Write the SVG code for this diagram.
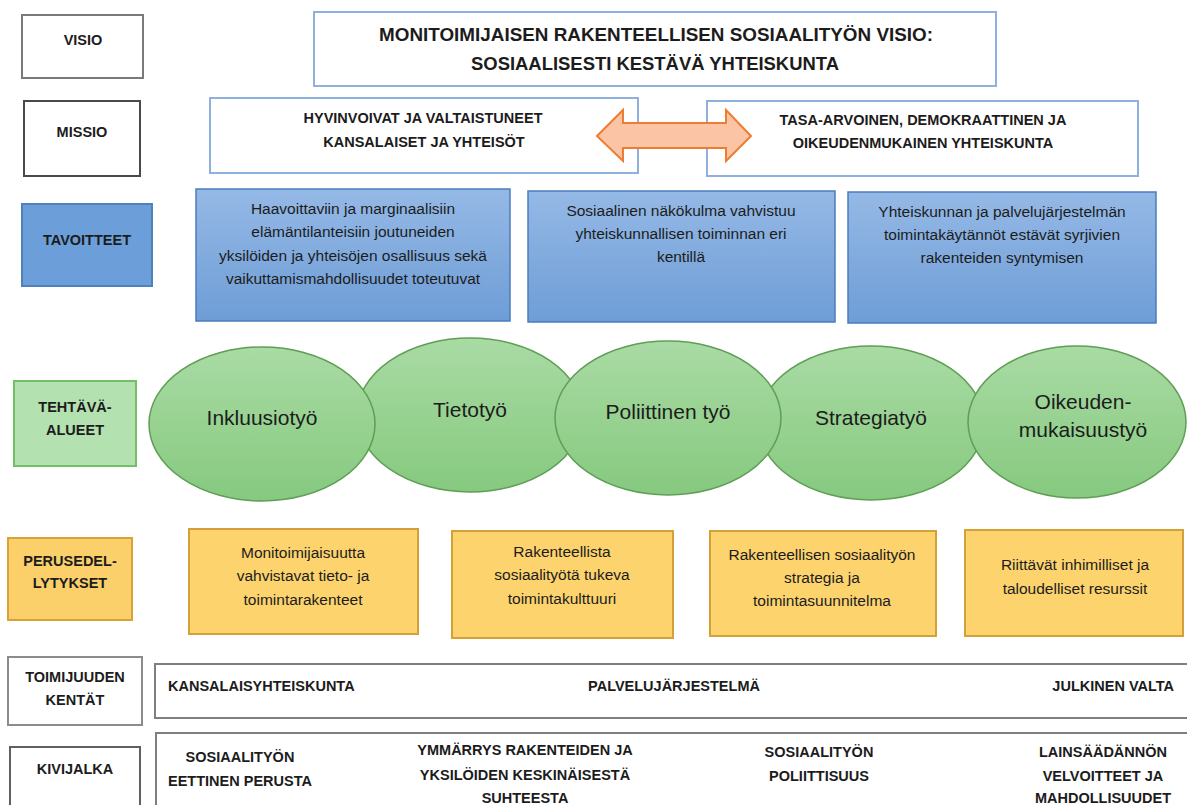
<svg xmlns="http://www.w3.org/2000/svg" width="1187" height="805" viewBox="0 0 1187 805">
<defs>
<linearGradient id="gBlue" x1="0" y1="0" x2="0" y2="1"><stop offset="0" stop-color="#95b9e6"/><stop offset="1" stop-color="#6e9dd6"/></linearGradient>
<linearGradient id="gGreen" x1="0" y1="0" x2="0" y2="1"><stop offset="0" stop-color="#a9dba4"/><stop offset="1" stop-color="#86c97f"/></linearGradient>
<style>
text{font-family:"Liberation Sans",Arial,sans-serif;fill:#1c1c1c;text-anchor:middle}
.b{font-weight:bold;font-size:14.5px}
.t{font-weight:bold;font-size:19px}
.n{font-size:15.5px}
.e{font-size:21px}
.lab{fill:#fff;stroke:#7a7a7a;stroke-width:2}
.top{fill:#fff;stroke:#8fb0dc;stroke-width:2}
.blue{fill:url(#gBlue);stroke:#4a7dbd;stroke-width:1.5}
.ell{fill:url(#gGreen);stroke:#5f9e55;stroke-width:1.5}
.org{fill:#fdd36e;stroke:#d4a139;stroke-width:2}
.row{fill:#fff;stroke:#7f7f7f;stroke-width:2}
</style>
</defs>
<rect width="1187" height="805" fill="#fff"/>

<g id="visio-label"><rect class="lab" x="22" y="15" width="121" height="63"/><text class="b" x="83" y="45">VISIO</text></g>
<g id="missio-label"><rect class="lab" x="24" y="101" width="116" height="75" style="stroke:#4a4a4a"/><text class="b" x="82" y="137">MISSIO</text></g>
<g id="tavoitteet-label"><rect x="22" y="204" width="130" height="82" fill="#6c9fd9" stroke="#4f81bd" stroke-width="2"/><text class="b" x="87" y="245">TAVOITTEET</text></g>
<g id="tehtava-label"><rect x="14" y="381" width="122" height="85" fill="#b4e1b0" stroke="#72c066" stroke-width="2"/><text class="b" x="75" y="412">TEHTÄVÄ-</text><text class="b" x="75" y="435">ALUEET</text></g>
<g id="perusedel-label"><rect x="8" y="538" width="124" height="82" fill="#fbd06a" stroke="#d9a13a" stroke-width="2"/><text class="b" x="70" y="566">PERUSEDEL-</text><text class="b" x="70" y="588">LYTYKSET</text></g>
<g id="toimijuuden-label"><rect class="lab" x="8" y="657" width="134" height="68" style="stroke:#8c8c8c"/><text class="b" x="75" y="682">TOIMIJUUDEN</text><text class="b" x="75" y="705">KENTÄT</text></g>
<g id="kivijalka-label"><rect class="lab" x="10" y="747" width="130" height="70" style="stroke:#606060"/><text class="b" x="75" y="774">KIVIJALKA</text></g>

<g id="visio"><rect class="top" x="314" y="12" width="682" height="74"/>
<text class="t" x="656" y="41" textLength="554" lengthAdjust="spacingAndGlyphs">MONITOIMIJAISEN RAKENTEELLISEN SOSIAALITYÖN VISIO:</text>
<text class="t" x="655" y="70" textLength="368" lengthAdjust="spacingAndGlyphs">SOSIAALISESTI KESTÄVÄ YHTEISKUNTA</text></g>

<g id="missio-1"><rect class="top" x="210" y="98" width="428" height="75"/>
<text class="b" x="423" y="123">HYVINVOIVAT JA VALTAISTUNEET</text>
<text class="b" x="424" y="147">KANSALAISET JA YHTEISÖT</text></g>
<g id="missio-2"><rect class="top" x="707" y="101" width="431" height="75"/>
<text class="b" x="923" y="125">TASA-ARVOINEN, DEMOKRAATTINEN JA</text>
<text class="b" x="923" y="148">OIKEUDENMUKAINEN YHTEISKUNTA</text></g>

<g id="connectors">
<polygon points="597,136 623,110 623,123 726,123 726,110 751,136 726,161 726,148 623,148 623,161" fill="#fbc4a4" stroke="#ed7d31" stroke-width="2" stroke-linejoin="miter"/>
</g>

<g id="tavoite-1"><rect class="blue" x="196" y="189" width="314" height="132"/>
<text class="n" x="353" y="214">Haavoittaviin ja marginaalisiin</text>
<text class="n" x="353" y="237">elämäntilanteisiin joutuneiden</text>
<text class="n" x="353" y="261">yksilöiden ja yhteisöjen osallisuus sekä</text>
<text class="n" x="353" y="284">vaikuttamismahdollisuudet toteutuvat</text></g>
<g id="tavoite-2"><rect class="blue" x="528" y="191" width="307" height="131"/>
<text class="n" x="681" y="216">Sosiaalinen näkökulma vahvistuu</text>
<text class="n" x="681" y="239">yhteiskunnallisen toiminnan eri</text>
<text class="n" x="681" y="262">kentillä</text></g>
<g id="tavoite-3"><rect class="blue" x="848" y="192" width="308" height="131"/>
<text class="n" x="1002" y="217">Yhteiskunnan ja palvelujärjestelmän</text>
<text class="n" x="1002" y="240">toimintakäytännöt estävät syrjivien</text>
<text class="n" x="1002" y="263">rakenteiden syntymisen</text></g>

<g id="tietotyo"><ellipse class="ell" cx="470" cy="415" rx="113" ry="77"/><text class="e" x="470" y="417">Tietotyö</text></g>
<g id="strategiatyo"><ellipse class="ell" cx="871" cy="423" rx="113" ry="77"/><text class="e" x="871" y="425">Strategiatyö</text></g>
<g id="inkluusiotyo"><ellipse class="ell" cx="262" cy="424" rx="113" ry="77"/><text class="e" x="262" y="425">Inkluusiotyö</text></g>
<g id="poliittinen-tyo"><ellipse class="ell" cx="668" cy="418" rx="113" ry="77"/><text class="e" x="668" y="419">Poliittinen työ</text></g>
<g id="oikeudenmukaisuustyo"><ellipse class="ell" cx="1077" cy="422" rx="109" ry="76"/><text class="e" x="1083" y="409">Oikeuden-</text><text class="e" x="1083" y="437">mukaisuustyö</text></g>

<g id="perus-1"><rect class="org" x="189" y="529" width="229" height="105"/>
<text class="n" x="303" y="558">Monitoimijaisuutta</text>
<text class="n" x="303" y="581">vahvistavat tieto- ja</text>
<text class="n" x="303" y="605">toimintarakenteet</text></g>
<g id="perus-2"><rect class="org" x="452" y="531" width="221" height="107"/>
<text class="n" x="562" y="557">Rakenteellista</text>
<text class="n" x="562" y="580">sosiaalityötä tukeva</text>
<text class="n" x="562" y="604">toimintakulttuuri</text></g>
<g id="perus-3"><rect class="org" x="710" y="531" width="226" height="105"/>
<text class="n" x="822" y="560">Rakenteellisen sosiaalityön</text>
<text class="n" x="822" y="583">strategia ja</text>
<text class="n" x="822" y="606">toimintasuunnitelma</text></g>
<g id="perus-4"><rect class="org" x="965" y="530" width="218" height="106"/>
<text class="n" x="1075" y="570">Riittävät inhimilliset ja</text>
<text class="n" x="1075" y="594">taloudelliset resurssit</text></g>

<g id="toimijuuden-kentat"><rect class="row" x="155" y="664" width="1045" height="54"/>
<text class="b" x="168" y="691" style="text-anchor:start">KANSALAISYHTEISKUNTA</text>
<text class="b" x="674" y="691">PALVELUJÄRJESTELMÄ</text>
<text class="b" x="1174" y="691" style="text-anchor:end">JULKINEN VALTA</text></g>

<g id="kivijalka"><rect class="row" x="156" y="733" width="1045" height="90"/>
<text class="b" x="240" y="762">SOSIAALITYÖN</text>
<text class="b" x="240" y="786">EETTINEN PERUSTA</text>
<text class="b" x="525" y="755">YMMÄRRYS RAKENTEIDEN JA</text>
<text class="b" x="525" y="780">YKSILÖIDEN KESKINÄISESTÄ</text>
<text class="b" x="525" y="803">SUHTEESTA</text>
<text class="b" x="819" y="757">SOSIAALITYÖN</text>
<text class="b" x="819" y="781">POLIITTISUUS</text>
<text class="b" x="1103" y="757">LAINSÄÄDÄNNÖN</text>
<text class="b" x="1103" y="781">VELVOITTEET JA</text>
<text class="b" x="1103" y="803">MAHDOLLISUUDET</text></g>
</svg>
